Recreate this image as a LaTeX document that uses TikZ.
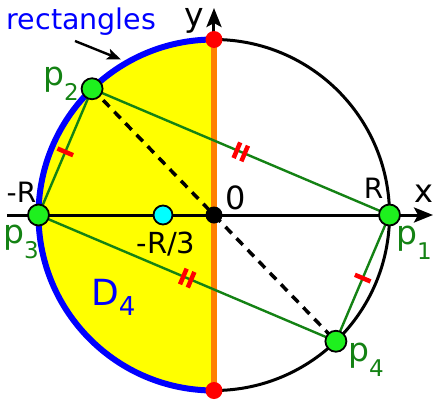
\documentclass[tikz,border=0pt]{standalone}
\usepackage{fontspec}
\setmainfont{DejaVu Sans}
\usetikzlibrary{arrows.meta}
\definecolor{dgreen}{RGB}{20,130,20}
\definecolor{lgreen}{RGB}{30,240,30}
\definecolor{myorange}{RGB}{255,128,0}
\definecolor{mycyan}{RGB}{0,255,255}
\definecolor{myblue}{RGB}{0,0,255}
\definecolor{myred}{RGB}{255,0,0}
\definecolor{myyellow}{RGB}{255,255,0}
\newcommand\fsz[1]{\fontsize{#1}{#1}\selectfont}
\begin{document}
\begin{tikzpicture}[x=1pt,y=1pt,
  lab/.style={inner sep=0pt, anchor=base},
  labw/.style={inner sep=0pt, anchor=base west},
  pdot/.style={circle, fill=lgreen, draw=black, line width=1.8pt, minimum size=21pt, inner sep=0pt},
  rdot/.style={circle, fill=myred, minimum size=17pt, inner sep=0pt},
  chord/.style={dgreen, line width=2.4pt},
  tickm/.style={rectangle, fill=myred, minimum width=4.5pt, minimum height=17pt, inner sep=0pt, sloped},
  axisarrow/.style={-{Stealth[length=19pt,width=15pt,inset=4pt]}, line width=3pt}]
\useasboundingbox (-214,-185) rectangle (220,215);
\def\R{175.5}
\coordinate (O) at (0,0);
\coordinate (c1) at (0:\R);
\coordinate (c2) at (134:\R);
\coordinate (c3) at (180:\R);
\coordinate (c4) at (-46:\R);
\coordinate (top) at (0,\R);
\coordinate (bot) at (0,-\R);
\coordinate (xs) at (-207,0);
\coordinate (xe) at (219,0);
\coordinate (ye) at (0,207);
\coordinate (as) at (-139,174);
\coordinate (ae) at (-93,155.5);
% yellow half disk
\fill[myyellow] (top) arc[start angle=90, end angle=270, radius=\R] -- cycle;
\draw[line width=3pt] (O) circle[radius=\R];
\draw[myblue, line width=6pt] (top) arc[start angle=90, end angle=270, radius=\R];
\draw[myorange, line width=5.5pt] (top) -- (bot);
\draw[axisarrow] (xs) -- (xe);
\draw[axisarrow] (top) -- (ye);
\draw[-{Stealth[length=14pt,width=11pt,inset=3pt]}, line width=2.4pt] (as) -- (ae);
% chords
\draw[chord] (c3) -- (c2);
\draw[chord] (c2) -- (c1);
\draw[chord] (c3) -- (c4);
\draw[chord] (c1) -- (c4);
\draw[line width=3.5pt, dash pattern=on 9pt off 7pt] (c2) -- (c4);
% tick marks
\path (c3) -- (c2) node[tickm, pos=0.5] (t1) {};
\path (c2) -- (c1) node[tickm, pos=0.487] (t2a) {} node[tickm, pos=0.513] (t2b) {};
\path (c3) -- (c4) node[tickm, pos=0.487] (t3a) {} node[tickm, pos=0.513] (t3b) {};
\path (c1) -- (c4) node[tickm, pos=0.5] (t4) {};
% dots
\node[rdot] (rt) at (top) {};
\node[rdot] (rb) at (bot) {};
\node[circle, fill=mycyan, draw=black, line width=1.8pt, minimum size=19pt, inner sep=0pt] (q) at (-51,0) {};
\node[circle, fill=black, minimum size=17pt, inner sep=0pt] (o) at (O) {};
\node[pdot] (p1) at (c1) {};
\node[pdot] (p2) at (c2) {};
\node[pdot] (p3) at (c3) {};
\node[pdot] (p4) at (c4) {};
% labels
\node[lab, text=myblue] (lrect) at (-132.5,186) {\fsz{28.5}rectangles};
\node[lab] (ly) at (-20,189) {\fsz{33}y};
\node[lab] (lx) at (210,13) {\fsz{32}x};
\node[lab] (l0) at (22,6) {\fsz{32}0};
\node[lab] (lR) at (159.5,17) {\fsz{28}R};
\node[lab] (lmR) at (-192.5,13) {\fsz{28}-R};
\node[lab] (lR3) at (-48,-38) {\fsz{29}-R/3};
\node[labw, text=dgreen] (lp2) at (-171,130) {\fsz{33}p\raisebox{-15pt}{\fsz{23}2}};
\node[labw, text=dgreen] (lp3) at (-211,-28) {\fsz{33}p\raisebox{-15pt}{\fsz{23}3}};
\node[labw, text=dgreen] (lp1) at (182,-29) {\fsz{33}p\raisebox{-15pt}{\fsz{23}1}};
\node[labw, text=dgreen] (lp4) at (134,-146) {\fsz{33}p\raisebox{-15pt}{\fsz{23}4}};
\node[labw, text=myblue] (lD) at (-123,-90) {\fsz{36}D\raisebox{-10pt}{\fsz{26}4}};
\end{tikzpicture}
\end{document}
